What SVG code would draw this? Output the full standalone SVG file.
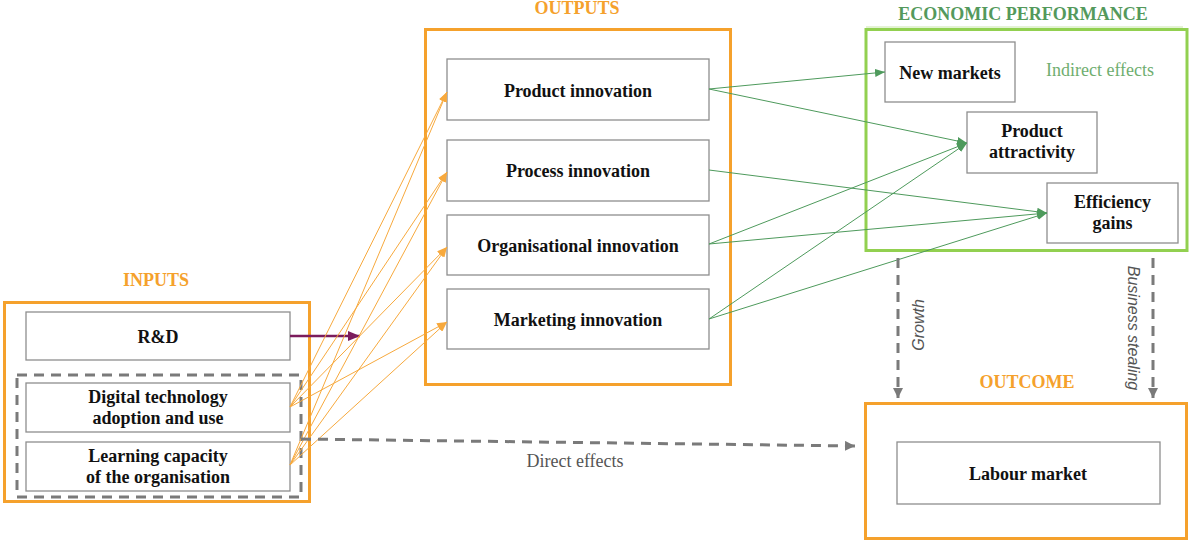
<svg xmlns="http://www.w3.org/2000/svg" width="1189" height="540" viewBox="0 0 1189 540">
  <style>
    .frame-o { fill: none; stroke: #F5A12C; stroke-width: 3; }
    .frame-g { fill: none; stroke: #92D050; stroke-width: 3; }
    .node { fill: #FFFFFF; stroke: #8E8E8E; stroke-width: 1.3; }
    .lbl { font-family: "Liberation Serif", "Times New Roman", serif; font-weight: bold; font-size: 18px; fill: #111111; text-anchor: middle; }
    .head-o { font-family: "Liberation Serif", "Times New Roman", serif; font-weight: bold; font-size: 18px; fill: #F5A12C; text-anchor: middle; }
    .head-g { font-family: "Liberation Serif", "Times New Roman", serif; font-weight: bold; font-size: 18px; fill: #54995C; text-anchor: middle; }
    .note-g { font-family: "Liberation Serif", "Times New Roman", serif; font-size: 18px; fill: #6FAE6F; text-anchor: middle; }
    .note { font-family: "Liberation Serif", "Times New Roman", serif; font-size: 18px; fill: #555555; text-anchor: middle; }
    .side { font-family: "Liberation Sans", Arial, sans-serif; font-style: italic; font-size: 16px; fill: #555555; text-anchor: middle; }
    .e-o { fill: none; stroke: #F7A93D; stroke-width: 1; marker-end: url(#ah-o); }
    .e-g { fill: none; stroke: #4E9A5C; stroke-width: 1; marker-end: url(#ah-g); }
    .e-d { fill: none; stroke: #7A7A7A; stroke-width: 3; stroke-dasharray: 10 7; marker-end: url(#ah-d); }
  </style>
  <defs>
    <marker id="ah-o" markerUnits="userSpaceOnUse" markerWidth="10" markerHeight="8" refX="10" refY="4" orient="auto">
      <path d="M0,0 L10,4 L0,8 Z" fill="#F7A93D"/>
    </marker>
    <marker id="ah-g" markerUnits="userSpaceOnUse" markerWidth="10" markerHeight="8" refX="10" refY="4" orient="auto">
      <path d="M0,0 L10,4 L0,8 Z" fill="#4E9A5C"/>
    </marker>
    <marker id="ah-d" markerUnits="userSpaceOnUse" markerWidth="10" markerHeight="10" refX="10" refY="5" orient="auto">
      <path d="M0,0 L10,5 L0,10 Z" fill="#7A7A7A"/>
    </marker>
    <marker id="ah-p" markerUnits="userSpaceOnUse" markerWidth="12" markerHeight="10" refX="12" refY="5" orient="auto">
      <path d="M0,0 L12,5 L0,10 Z" fill="#7B1C5C"/>
    </marker>
  </defs>

  <!-- group frames and headings -->
  <g id="inputs">
    <text class="head-o" x="156" y="286">INPUTS</text>
    <rect class="frame-o" x="4.5" y="302.5" width="305" height="199"/>
    <rect x="17" y="375" width="284" height="122" fill="none" stroke="#7A7A7A" stroke-width="3" stroke-dasharray="10 7"/>
  </g>
  <g id="outputs">
    <text class="head-o" x="577" y="14">OUTPUTS</text>
    <rect class="frame-o" x="425.5" y="29.5" width="305" height="355"/>
  </g>
  <g id="performance">
    <text class="head-g" x="1023" y="20">ECONOMIC PERFORMANCE</text>
    <line x1="866" y1="27" x2="1183" y2="27" stroke="#C8E6A8" stroke-width="1"/>
    <rect class="frame-g" x="866" y="29.5" width="321" height="221"/>
    <text class="note-g" x="1100" y="76">Indirect effects</text>
  </g>
  <g id="outcome">
    <text class="head-o" x="1027" y="388">OUTCOME</text>
    <rect class="frame-o" x="865.5" y="403.5" width="321" height="135"/>
  </g>

  <!-- input nodes -->
  <g id="rd">
    <rect class="node" x="26" y="312" width="264" height="48"/>
    <text class="lbl" x="158" y="342.5">R&amp;D</text>
  </g>
  <g id="digital">
    <rect class="node" x="26" y="383" width="264" height="49"/>
    <text class="lbl" x="158" y="403">Digital technology</text>
    <text class="lbl" x="158" y="424">adoption and use</text>
  </g>
  <g id="learning">
    <rect class="node" x="26" y="442" width="264" height="49"/>
    <text class="lbl" x="158" y="462">Learning capacity</text>
    <text class="lbl" x="158" y="483">of the organisation</text>
  </g>

  <!-- innovation nodes -->
  <g id="product">
    <rect class="node" x="447" y="59" width="262" height="61"/>
    <text class="lbl" x="578" y="96.5">Product innovation</text>
  </g>
  <g id="process">
    <rect class="node" x="447" y="140" width="262" height="61"/>
    <text class="lbl" x="578" y="177">Process innovation</text>
  </g>
  <g id="organisational">
    <rect class="node" x="447" y="215" width="262" height="60"/>
    <text class="lbl" x="578" y="251.5">Organisational innovation</text>
  </g>
  <g id="marketing">
    <rect class="node" x="447" y="289" width="262" height="60"/>
    <text class="lbl" x="578" y="326">Marketing innovation</text>
  </g>

  <!-- performance nodes -->
  <g id="new-markets">
    <rect class="node" x="885" y="42" width="130" height="60"/>
    <text class="lbl" x="950" y="78.5">New markets</text>
  </g>
  <g id="attractivity">
    <rect class="node" x="967" y="112" width="130" height="61"/>
    <text class="lbl" x="1032" y="137">Product</text>
    <text class="lbl" x="1032" y="158">attractivity</text>
  </g>
  <g id="efficiency">
    <rect class="node" x="1047" y="183" width="131" height="60"/>
    <text class="lbl" x="1112.5" y="208">Efficiency</text>
    <text class="lbl" x="1112.5" y="229">gains</text>
  </g>

  <!-- outcome node -->
  <g id="labour">
    <rect class="node" x="897" y="442" width="263" height="62"/>
    <text class="lbl" x="1028" y="479.5">Labour market</text>
  </g>

  <!-- connectors -->
  <g id="connectors">
    <!-- R&D to innovation -->
    <line x1="290" y1="336" x2="360" y2="336" stroke="#7B1C5C" stroke-width="2.5" marker-end="url(#ah-p)"/>

    <!-- digital and learning inputs to each innovation type -->
    <line class="e-o" x1="290" y1="407" x2="447" y2="92"/>
    <line class="e-o" x1="290" y1="407" x2="447" y2="172"/>
    <line class="e-o" x1="290" y1="407" x2="447" y2="247"/>
    <line class="e-o" x1="290" y1="407" x2="447" y2="322"/>
    <line class="e-o" x1="290" y1="465" x2="447" y2="92"/>
    <line class="e-o" x1="290" y1="465" x2="447" y2="172"/>
    <line class="e-o" x1="290" y1="465" x2="447" y2="247"/>
    <line class="e-o" x1="290" y1="465" x2="447" y2="322"/>

    <!-- innovation to economic performance -->
    <line class="e-g" x1="709" y1="89" x2="885" y2="72"/>
    <line class="e-g" x1="709" y1="89" x2="967" y2="143"/>
    <line class="e-g" x1="709" y1="170" x2="1047" y2="213"/>
    <line class="e-g" x1="709" y1="244" x2="967" y2="143"/>
    <line class="e-g" x1="709" y1="244" x2="1047" y2="213"/>
    <line class="e-g" x1="709" y1="319" x2="967" y2="143"/>
    <line class="e-g" x1="709" y1="319" x2="1047" y2="213"/>

    <!-- direct, growth and business stealing effects -->
    <path class="e-d" d="M301,439 L855,446"/>
    <line class="e-d" x1="898" y1="258" x2="898" y2="398"/>
    <line class="e-d" x1="1153" y1="258" x2="1153" y2="398"/>
  </g>

  <!-- effect labels -->
  <text class="note" x="575" y="467">Direct effects</text>
  <text class="side" transform="translate(924,325) rotate(-90)">Growth</text>
  <text class="side" transform="translate(1128,328) rotate(90)">Business stealing</text>
</svg>
